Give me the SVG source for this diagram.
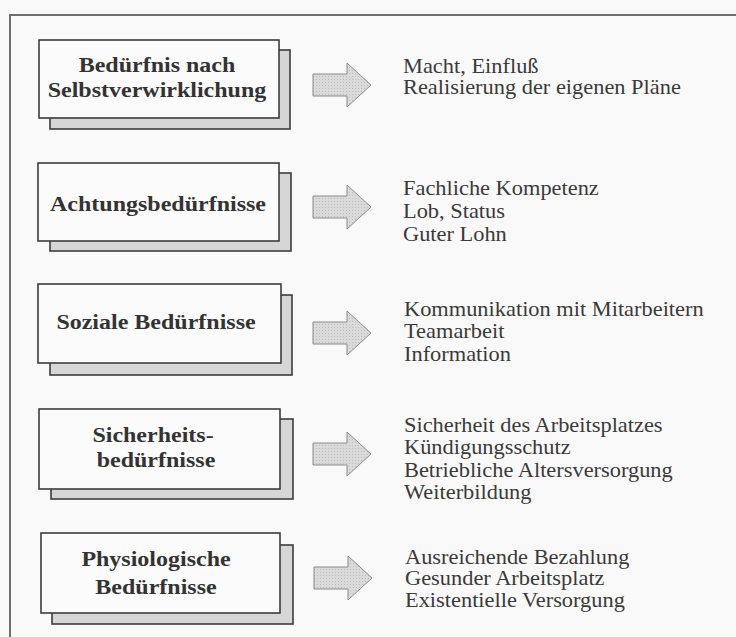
<svg xmlns="http://www.w3.org/2000/svg" width="736" height="637" viewBox="0 0 736 637">
  <style>
    .frame { stroke: #6e6e6e; stroke-width: 2; fill: none; }
    .shadow { fill: #d6d6d6; stroke: #3c3c3c; stroke-width: 1.6; }
    .front { fill: #fbfbfb; stroke: #3c3c3c; stroke-width: 1.6; }
    .title { font-family: "Liberation Serif", "Times New Roman", serif; font-weight: bold; font-size: 20px; fill: #333; text-anchor: middle; }
    .list { font-family: "Liberation Serif", "Times New Roman", serif; font-size: 20px; fill: #3a3a3a; }
    .arrow { fill: #d2d2d2; stroke: #8a8a8a; stroke-width: 1; }
  </style>
  <defs>
    <pattern id="dots" width="3" height="3" patternUnits="userSpaceOnUse">
      <rect width="3" height="3" fill="#dadada"/>
      <rect width="1" height="1" fill="#bdbdbd"/>
    </pattern>
    <path id="arrowShape" d="M0,-11 L34,-11 L34,-22 L58,0 L34,22 L34,11 L0,11 Z"/>
  </defs>

  <rect width="736" height="637" fill="#f9f9f9"/>
  <!-- outer frame: top and left edges -->
  <path class="frame" d="M10,637 L10,15 L736,15"/>

  <!-- need levels -->
  <g id="node-selbstverwirklichung">
    <rect class="shadow" x="50" y="50" width="240" height="79"/>
    <rect class="front" x="39" y="40" width="240" height="78"/>
    <text class="title" transform="translate(157,72) scale(1.2,1)">Bedürfnis nach</text>
    <text class="title" transform="translate(157,97) scale(1.2,1)">Selbstverwirklichung</text>
  </g>
  <g id="node-achtung">
    <rect class="shadow" x="50" y="173" width="241" height="78"/>
    <rect class="front" x="38" y="163" width="241" height="78"/>
    <text class="title" transform="translate(158,211) scale(1.2,1)">Achtungsbedürfnisse</text>
  </g>
  <g id="node-sozial">
    <rect class="shadow" x="50" y="295" width="242" height="80"/>
    <rect class="front" x="38" y="284" width="243" height="79"/>
    <text class="title" transform="translate(156,329) scale(1.2,1)">Soziale Bedürfnisse</text>
  </g>
  <g id="node-sicherheit">
    <rect class="shadow" x="51" y="419" width="242" height="80"/>
    <rect class="front" x="39" y="409" width="241" height="80"/>
    <text class="title" transform="translate(153,442) scale(1.2,1)">Sicherheits-</text>
    <text class="title" transform="translate(156,467) scale(1.2,1)">bedürfnisse</text>
  </g>
  <g id="node-physiologisch">
    <rect class="shadow" x="52" y="545" width="241" height="79"/>
    <rect class="front" x="41" y="533" width="239" height="80"/>
    <text class="title" transform="translate(156,566) scale(1.2,1)">Physiologische</text>
    <text class="title" transform="translate(156,594) scale(1.2,1)">Bedürfnisse</text>
  </g>

  <!-- connectors: block arrows from each level to its examples -->
  <g id="connectors">
    <use href="#arrowShape" class="arrow" transform="translate(313,85)" style="fill:url(#dots)"/>
    <use href="#arrowShape" class="arrow" transform="translate(313,207)" style="fill:url(#dots)"/>
    <use href="#arrowShape" class="arrow" transform="translate(313,333)" style="fill:url(#dots)"/>
    <use href="#arrowShape" class="arrow" transform="translate(313,454)" style="fill:url(#dots)"/>
    <use href="#arrowShape" class="arrow" transform="translate(314,578)" style="fill:url(#dots)"/>
  </g>

  <!-- example lists -->
  <g id="examples-selbstverwirklichung">
    <text class="list" transform="translate(403,73) scale(1.12,1)"><tspan x="0">Macht, Einfluß</tspan><tspan x="0" dy="21.5">Realisierung der eigenen Pläne</tspan></text>
  </g>
  <g id="examples-achtung">
    <text class="list" transform="translate(403,195) scale(1.12,1)"><tspan x="0">Fachliche Kompetenz</tspan><tspan x="0" dy="23">Lob, Status</tspan><tspan x="0" dy="23">Guter Lohn</tspan></text>
  </g>
  <g id="examples-sozial">
    <text class="list" transform="translate(404,316) scale(1.12,1)"><tspan x="0">Kommunikation mit Mitarbeitern</tspan><tspan x="0" dy="22.5">Teamarbeit</tspan><tspan x="0" dy="22.5">Information</tspan></text>
  </g>
  <g id="examples-sicherheit">
    <text class="list" transform="translate(404,432) scale(1.12,1)"><tspan x="0">Sicherheit des Arbeitsplatzes</tspan><tspan x="0" dy="22.5">Kündigungsschutz</tspan><tspan x="0" dy="22.5">Betriebliche Altersversorgung</tspan><tspan x="0" dy="22.5">Weiterbildung</tspan></text>
  </g>
  <g id="examples-physiologisch">
    <text class="list" transform="translate(405,564) scale(1.12,1)"><tspan x="0">Ausreichende Bezahlung</tspan><tspan x="0" dy="21.5">Gesunder Arbeitsplatz</tspan><tspan x="0" dy="21.5">Existentielle Versorgung</tspan></text>
  </g>
</svg>
